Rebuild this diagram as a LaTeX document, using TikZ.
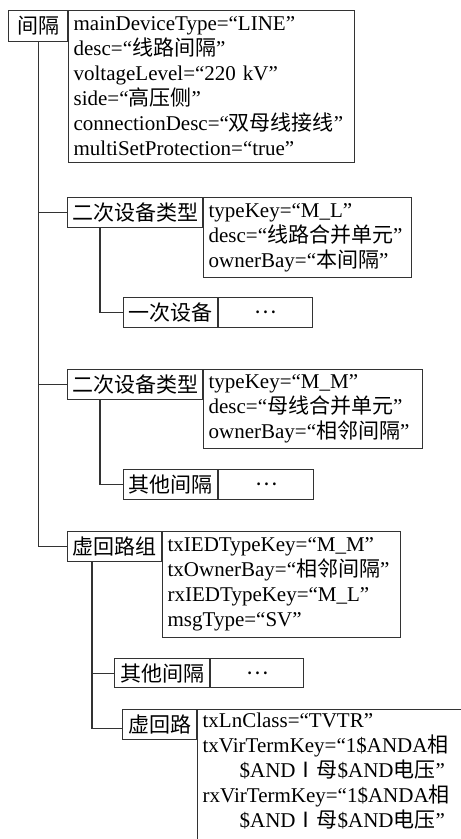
\documentclass[tikz,border=0pt]{standalone}
\usepackage{fontspec}
\setmainfont{Liberation Serif}
\newfontfamily\cjk{Noto Sans CJK SC}
\newcommand\zh[1]{{\cjk #1}}
\usetikzlibrary{positioning}

\tikzset{
  box/.style={draw=black!80, line width=1.1pt, inner sep=0pt, anchor=north west},
  lbl/.style 2 args={box, font=\cjk\fontsize{21}{25}\selectfont,
                     minimum width=#1, minimum height=#2},
  attr/.style 2 args={box, font=\fontsize{21}{25}\selectfont, align=left,
                      inner xsep=5pt, text width=#1, minimum height=#2},
  conn/.style={draw=black!80, line width=1.1pt}
}

\begin{document}
\begin{tikzpicture}[x=1pt,y=-1pt]
  \clip (0,0) rectangle (461,839);

  % bay
  \node[lbl={59pt}{31pt}] (bay) at (8,10) {间隔};
  \node[attr={276pt}{152pt}] (bayattr) at (bay.north east)
       {mainDeviceType=“LINE”\\
        desc=“\zh{线路间隔}”\\
        voltageLevel=“220 kV”\\
        side=“\zh{高压侧}”\\
        connectionDesc=“\zh{双母线接线}”\\
        multiSetProtection=“true”};

  % first secondary device type
  \node[lbl={135pt}{30pt}] (sec1) at (67,197) {二次设备类型};
  \node[attr={198pt}{80pt}] (sec1attr) at (sec1.north east)
       {typeKey=“M\_L”\\
        desc=“\zh{线路合并单元}”\\
        ownerBay=“\zh{本间隔}”};
  \node[lbl={94pt}{30pt}] (pri1) at (123,297) {一次设备};
  \node[lbl={94pt}{30pt}] (pri1dots) at (pri1.north east) {…};

  % second secondary device type
  \node[lbl={135pt}{30pt}] (sec2) at (67,369) {二次设备类型};
  \node[attr={209pt}{79pt}] (sec2attr) at (sec2.north east)
       {typeKey=“M\_M”\\
        desc=“\zh{母线合并单元}”\\
        ownerBay=“\zh{相邻间隔}”};
  \node[lbl={94pt}{30pt}] (oth1) at (123,469) {其他间隔};
  \node[lbl={95pt}{30pt}] (oth1dots) at (oth1.north east) {…};

  % virtual loop group
  \node[lbl={94pt}{30pt}] (vgrp) at (67,531) {虚回路组};
  \node[attr={228pt}{106pt}] (vgrpattr) at (vgrp.north east)
       {txIEDTypeKey=“M\_M”\\
        txOwnerBay=“\zh{相邻间隔}”\\
        rxIEDTypeKey=“M\_L”\\
        msgType=“SV”};
  \node[lbl={95pt}{29pt}] (oth2) at (114,658) {其他间隔};
  \node[lbl={93pt}{29pt}] (oth2dots) at (oth2.north east) {…};
  \node[lbl={74pt}{30pt}] (vloop) at (122,709) {虚回路};
  \node[attr={260pt}{0pt}, inner ysep=3pt] (vloopattr) at (vloop.north east)
       {txLnClass=“TVTR”\\
        txVirTermKey=“1\$ANDA\zh{相}\\
        \hspace*{37pt}\$AND\zh{Ⅰ母}\$AND\zh{电压}”\\
        rxVirTermKey=“1\$ANDA\zh{相}\\
        \hspace*{37pt}\$AND\zh{Ⅰ母}\$AND\zh{电压}”\\
        \mbox{}};

  % tree lines
  \draw[conn] (bay.south) |- (sec1.west);
  \draw[conn] (bay.south) |- (sec2.west);
  \draw[conn] (bay.south) |- (vgrp.west);
  \draw[conn] (sec1.south west) ++(33,0) |- (pri1.west);
  \draw[conn] (sec2.south west) ++(33,0) |- (oth1.west);
  \draw[conn] (vgrp.south west) ++(25,0) |- (oth2.west);
  \draw[conn] (vgrp.south west) ++(25,0) |- ([yshift=-4pt]vloop.west);
\end{tikzpicture}
\end{document}
